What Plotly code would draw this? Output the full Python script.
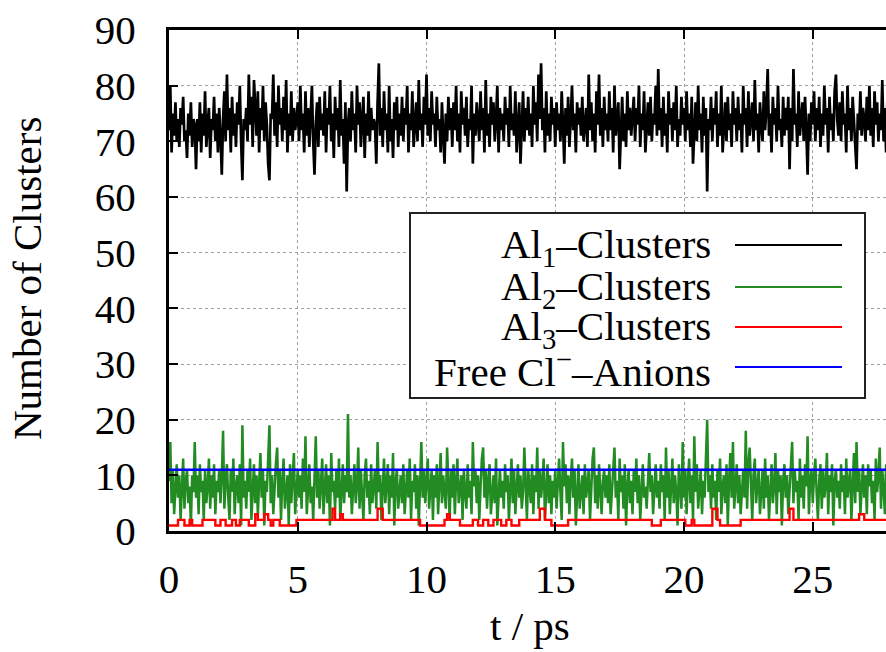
import plotly.graph_objects as go

# ---------------- data ----------------
DT = 0.05  # ps between samples

al1_clusters = [
    72,80,68,75,71,77,70,74,69,76,73,78,70,72,67,75,71,77,69,74,
    73,65,74,70,77,68,75,71,79,69,73,76,67,74,72,78,70,75,68,76,
    71,64,74,79,70,82,72,76,68,78,71,75,69,77,73,80,70,63,74,72,
    76,70,82,73,78,69,81,74,71,79,68,76,72,80,70,77,73,66,63,75,
    74,82,71,77,69,80,73,76,70,78,72,81,68,75,71,79,70,76,72,74,
    77,70,80,72,75,68,79,71,76,69,74,80,70,64,73,77,69,78,72,75,
    71,79,68,76,73,80,70,75,67,78,72,76,69,81,71,74,66,77,61,73,
    76,70,79,72,75,68,80,73,77,69,74,78,67,75,71,79,70,76,72,74,
    73,66,77,84,71,76,69,79,72,75,68,80,70,74,67,77,72,78,69,75,
    71,78,70,76,73,80,68,75,72,79,69,74,77,70,81,72,75,69,78,73,
    82,71,76,70,79,73,75,69,78,72,74,68,77,71,66,75,70,78,72,76,
    69,77,72,80,70,75,68,79,73,76,71,78,69,74,72,80,66,75,71,77,
    73,70,79,72,76,68,81,71,75,69,78,73,77,70,74,80,68,76,72,75,
    70,78,73,76,69,80,72,75,71,79,68,74,77,66,73,79,70,76,72,78,
    71,75,69,80,73,77,70,82,74,84,72,76,68,79,71,75,70,78,73,76,
    69,77,72,75,70,79,73,66,76,71,78,69,74,80,72,75,68,77,73,76,
    71,78,70,74,76,69,82,72,77,70,75,68,79,73,82,71,76,69,78,72,
    75,70,79,72,76,68,80,71,74,77,65,73,78,70,75,69,79,72,76,71,
    74,78,70,76,73,80,69,75,72,79,68,74,77,71,78,70,75,73,80,71,
    83,72,76,69,78,71,75,68,79,73,76,70,77,72,80,69,74,71,78,73,
    76,70,79,72,75,69,78,66,73,77,70,80,72,75,68,78,71,76,61,74,
    72,78,70,76,73,79,69,75,71,80,68,74,77,70,78,72,75,69,79,73,
    76,70,78,72,75,68,80,73,76,69,79,71,74,77,70,81,72,75,68,77,
    73,70,79,72,76,83,71,75,68,78,73,76,70,80,72,74,69,78,71,76,
    72,78,65,76,70,83,73,75,69,79,71,74,77,70,78,72,64,75,70,77,
    73,79,70,76,72,78,69,75,71,80,73,76,68,78,72,75,70,79,82,74,
    71,77,70,79,73,75,68,80,72,76,70,78,74,69,65,75,72,79,71,76,
    74,70,78,72,80,71,76,69,79,73,77,70,75,72,81,70,76,68,78,73,
    75,71,78,70,76,73,79,69,74,77,72,78,70,75,71,76,73,79,70,74,
]

al2_clusters = [
    9,16,5,11,3,8,12,6,10,2,7,13,4,9,11,5,8,1,10,7,
    16,6,10,3,12,7,9,2,11,5,8,13,4,10,6,12,3,9,7,11,
    5,10,18,4,9,12,6,2,11,7,13,3,8,10,5,12,1,19,6,9,
    4,11,7,13,2,9,12,5,10,3,8,14,6,11,1,9,7,12,19,5,
    10,3,8,12,15,6,11,2,9,13,4,7,10,1,12,5,9,14,3,8,
    11,6,10,4,13,7,17,3,9,12,5,8,2,10,17,6,11,4,9,13,
    3,8,12,5,10,1,14,7,9,4,11,6,13,2,8,12,5,10,7,21,
    6,10,3,9,12,5,8,15,4,11,7,2,10,13,6,9,3,12,5,8,
    11,4,16,7,10,2,9,13,5,8,12,3,10,6,14,1,9,11,4,7,
    10,5,12,3,8,11,6,13,2,9,7,12,4,10,1,8,16,6,11,5,
    9,13,4,7,11,2,10,6,12,3,8,14,5,10,7,4,15,9,2,11,
    6,12,3,9,13,5,8,10,2,11,7,4,12,6,9,3,16,8,11,5,
    10,2,8,13,15,6,11,4,9,12,3,7,10,5,13,1,8,11,6,9,
    4,12,7,10,2,9,13,5,11,3,8,12,6,10,4,7,15,9,2,11,
    8,5,12,3,10,7,15,4,11,6,9,13,2,8,12,5,10,3,9,6,
    11,4,9,13,7,2,16,8,12,5,10,3,9,13,6,11,1,8,12,4,
    7,10,3,12,6,9,11,2,8,13,15,5,10,4,12,7,3,9,11,6,
    10,5,12,3,8,11,15,6,9,2,13,7,10,4,12,1,8,11,5,9,
    3,11,7,13,5,10,2,9,12,6,8,4,11,14,7,10,3,9,12,6,
    9,4,12,7,10,2,15,6,11,3,8,13,5,10,7,1,12,8,4,16,
    6,11,3,9,13,5,10,2,17,7,12,4,8,11,3,9,6,13,20,7,
    10,4,12,6,9,2,11,7,13,3,8,10,5,12,1,9,14,6,16,4,
    9,12,5,10,3,8,11,6,18,4,12,15,7,2,10,13,5,9,11,3,
    8,11,4,13,6,10,2,9,12,5,8,14,3,11,7,10,1,9,12,6,
    10,3,8,12,16,5,11,7,9,2,13,6,10,4,12,8,17,3,9,11,
    5,10,13,7,2,9,12,4,11,6,8,14,3,10,7,12,1,9,11,6,
    9,4,12,7,10,3,13,6,8,11,2,10,14,5,16,7,11,3,9,12,
    6,10,3,12,8,11,5,9,2,13,7,10,15,4,11,8,3,12,6,9,
    10,5,12,7,3,11,9,13,4,8,12,6,10,2,9,14,5,11,7,10,
]

# Al3 clusters: value changes (time in ps, count)
al3_t = [0, 0.35, 0.6, 0.8, 0.9, 1.3, 1.8, 2.0, 2.2, 2.45, 2.6, 2.75, 3.1, 3.35, 3.45,
         3.7, 3.85, 3.95, 4.05, 4.3, 4.95, 6.35, 6.45, 6.65, 6.75, 8.1, 8.3, 9.75,
         10.7, 10.8, 10.9, 11.3, 11.8, 12.0, 12.2, 12.4, 12.6, 12.9, 13.1, 13.3, 13.6,
         14.4, 14.6, 14.85, 15.5, 18.75, 19.1, 20.05, 20.3, 20.4, 21.1, 21.3, 21.4,
         22.2, 24.1, 24.25, 26.8, 27.0, 29.0]
al3_clusters = [1, 2, 1, 2, 1, 2, 1, 2, 1, 2, 1, 2, 1, 3, 2,
                3, 2, 1, 2, 1, 2, 4, 2, 3, 2, 4, 2, 1,
                2, 3, 2, 1, 2, 1, 2, 1, 2, 1, 2, 1, 2,
                4, 2, 1, 2, 1, 2, 1, 2, 1, 4, 2, 1,
                2, 4, 2, 3, 2, 2]

free_cl_t = [0, 29.0]
free_cl_anions = [11, 11]

legend_labels = ["Al<sub>1</sub>\u2013Clusters", "Al<sub>2</sub>\u2013Clusters",
                 "Al<sub>3</sub>\u2013Clusters", "Free Cl<sup>\u2212</sup>\u2013Anions"]
colors = ["#000000", "#228b22", "#ff0000", "#0000ff"]

x_ticks = [0, 5, 10, 15, 20, 25]
y_ticks = [0, 10, 20, 30, 40, 50, 60, 70, 80, 90]

# ---------------- figure ----------------
W, H = 886, 652
ML, MR, MT, MB = 169, 0, 30, 121
PW, PH = W - ML - MR, H - MT - MB

def px(x):
    return (x - ML) / PW

def py(y):
    return (H - MB - y) / PH

t = [i * DT for i in range(len(al1_clusters))]
t2 = [i * DT for i in range(len(al2_clusters))]

FONT = "Times New Roman, Liberation Serif, DejaVu Serif, serif"
FS = 41

fig = go.Figure()
fig.add_trace(go.Scatter(x=t, y=al1_clusters, mode="lines",
                         line=dict(color=colors[0], width=2.7), showlegend=False))
fig.add_trace(go.Scatter(x=t2, y=al2_clusters, mode="lines",
                         line=dict(color=colors[1], width=2.5), showlegend=False))
fig.add_trace(go.Scatter(x=al3_t, y=al3_clusters, mode="lines",
                         line=dict(color=colors[2], width=2.4, shape="hv"), showlegend=False))
fig.add_trace(go.Scatter(x=free_cl_t, y=free_cl_anions, mode="lines",
                         line=dict(color=colors[3], width=2.4), showlegend=False))

fig.update_layout(
    width=W, height=H,
    margin=dict(l=ML, r=MR, t=MT, b=MB, pad=0),
    paper_bgcolor="white", plot_bgcolor="white",
    font=dict(family=FONT, size=FS, color="black"),
    xaxis=dict(range=[0, PW / 25.75], tickvals=x_ticks, ticks="inside", ticklen=9,
               tickwidth=1.5, tickcolor="black", showline=True, linewidth=3,
               linecolor="black", mirror="ticks", showgrid=True, gridcolor="#a0a0a0",
               gridwidth=1, griddash="dot", zeroline=False, ticklabelstandoff=10,
               tickfont=dict(family=FONT, size=FS)),
    yaxis=dict(range=[0, 90], tickvals=y_ticks, ticks="inside", ticklen=9,
               tickwidth=1.5, tickcolor="black", showline=True, linewidth=3,
               linecolor="black", mirror=False, showgrid=True, gridcolor="#a0a0a0",
               gridwidth=1, griddash="dot", zeroline=False, ticklabelstandoff=22,
               tickfont=dict(family=FONT, size=FS)),
)

annotations = [
    dict(text="Number of Clusters", textangle=-90, xref="paper", yref="paper",
         x=px(27), y=py(279), xanchor="center", yanchor="middle", showarrow=False,
         font=dict(family=FONT, size=FS)),
    dict(text="t / ps", xref="paper", yref="paper", x=px(530), y=py(626),
         xanchor="center", yanchor="middle", showarrow=False,
         font=dict(family=FONT, size=FS)),
]

shapes = [dict(type="rect", xref="paper", yref="paper", x0=px(410), x1=px(865),
               y0=py(398), y1=py(213), line=dict(color="#222222", width=2),
               fillcolor="white", layer="above")]

row_y = [245, 287, 327, 367]
for lab, col, ry in zip(legend_labels, colors, row_y):
    annotations.append(dict(text=lab, xref="paper", yref="paper", x=px(713), y=py(ry + 2),
                            xanchor="right", yanchor="middle", showarrow=False,
                            font=dict(family=FONT, size=FS)))
    shapes.append(dict(type="line", xref="paper", yref="paper", x0=px(735), x1=px(842),
                       y0=py(ry), y1=py(ry), line=dict(color=col, width=2), layer="above"))

fig.update_layout(annotations=annotations, shapes=shapes)
fig.write_html("out.html")
